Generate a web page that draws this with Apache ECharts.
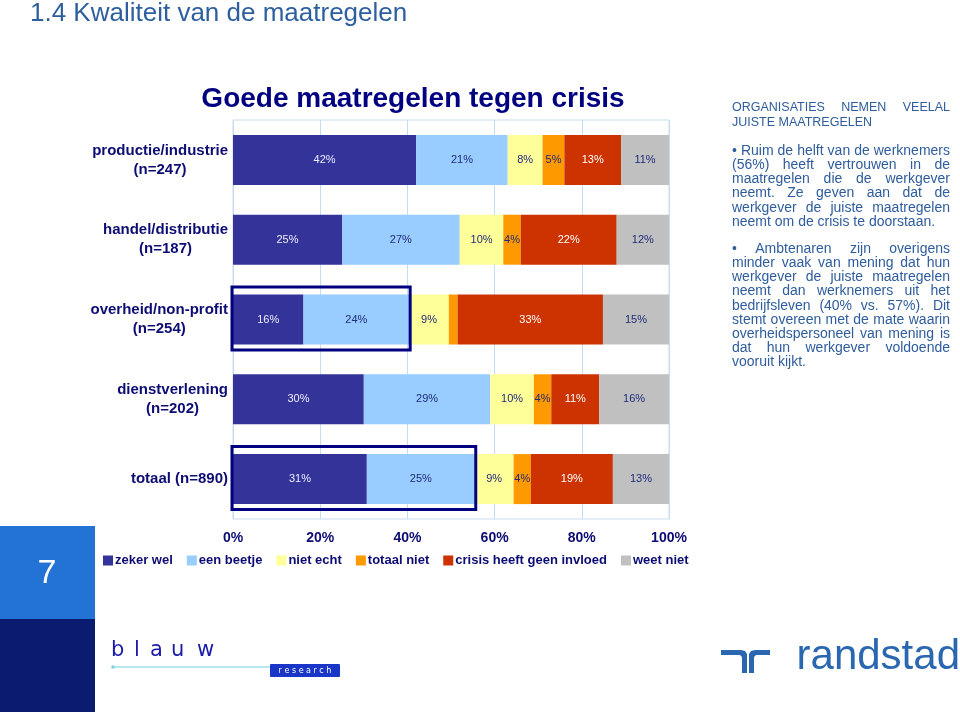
<!DOCTYPE html>
<html><head><meta charset="utf-8">
<script src="https://cdn.jsdelivr.net/npm/echarts@6/dist/echarts.min.js"></script>
<style>html,body{margin:0;padding:0;background:#fff}#c{width:960px;height:712px}</style>
</head><body><div id="c"></div>
<script>
// ---- data ----
const categories = ['productie/industrie\n(n=247)', 'handel/distributie\n(n=187)', 'overheid/non-profit\n(n=254)', 'dienstverlening\n(n=202)', 'totaal (n=890)'];
const seriesNames = ['zeker wel', 'een beetje', 'niet echt', 'totaal niet', 'crisis heeft geen invloed', 'weet niet'];
const zekerWel   = [42, 25, 16, 30, 31];
const eenBeetje  = [21, 27, 24, 29, 25];
const nietEcht   = [8, 10, 9, 10, 9];
const totaalNiet = [5, 4, 2, 4, 4];
const geenInvloed= [13, 22, 33, 11, 19];
const weetNiet   = [11, 12, 15, 16, 13];
const xTicks = [0, 20, 40, 60, 80, 100];
const highlightRows = [2, 4];

const pageTitle = '1.4 Kwaliteit van de maatregelen';
const chartTitle = 'Goede maatregelen tegen crisis';
const heading = ['ORGANISATIES NEMEN VEELAL', 'JUISTE MAATREGELEN'];
const para1 = ['• Ruim de helft van de werknemers', '(56%) heeft vertrouwen in de', 'maatregelen die de werkgever', 'neemt. Ze geven aan dat de', 'werkgever de juiste maatregelen', 'neemt om de crisis te doorstaan.'];
const para2 = ['• Ambtenaren zijn overigens', 'minder vaak van mening dat hun', 'werkgever de juiste maatregelen', 'neemt dan werknemers uit het', 'bedrijfsleven (40% vs. 57%). Dit', 'stemt overeen met de mate waarin', 'overheidspersoneel van mening is', 'dat hun werkgever voldoende', 'vooruit kijkt.'];

// ---- styles ----
const FONT = '"Liberation Sans", Arial, sans-serif';
const colors = ['#333399', '#99CCFF', '#FFFF99', '#FF9900', '#CC3300', '#C0C0C0'];
const labelColors = ['#ECECFF', '#1F2A7A', '#1F2A7A', '#1F2A7A', '#FFFFFF', '#1F2A7A'];
const NAVY = '#0C0C73';
const TEXTBLUE = '#2E5C9C';

const values = [zekerWel, eenBeetje, nietEcht, totaalNiet, geenInvloed, weetNiet];
const rowSums = categories.map((_, i) => values.reduce((s, a) => s + a[i], 0));

const series = values.map((arr, k) => ({
  name: seriesNames[k], type: 'bar', stack: 'total', barWidth: 50,
  itemStyle: { color: colors[k] },
  emphasis: { disabled: true },
  data: arr.map((v, i) => ({ value: v / rowSums[i] * 100, raw: v })),
  label: {
    show: true, position: 'inside', fontSize: 11, fontFamily: FONT, color: labelColors[k],
    formatter: p => p.data.raw >= 3 ? p.data.raw + '%' : ''
  }
}));

const chart = echarts.init(document.getElementById('c'), null, { renderer: 'canvas' });

chart.setOption({
  animation: false,
  backgroundColor: '#ffffff',
  title: [
    { text: pageTitle, left: 25, top: -4, textStyle: { fontFamily: FONT, fontSize: 26, fontWeight: 'normal', color: '#2D5F9F' } },
    { text: chartTitle, left: 408, textAlign: 'center', top: 80, textStyle: { fontFamily: FONT, fontSize: 28, fontWeight: 'bold', color: '#000080' } }
  ],
  legend: {
    data: seriesNames, left: 98, top: 549, icon: 'rect', itemWidth: 10, itemHeight: 10, itemGap: 14,
    textStyle: { fontFamily: FONT, fontSize: 13, fontWeight: 'bold', color: NAVY, padding: [0, 0, 0, -3] },
    selectedMode: false
  },
  grid: { left: 233, right: 291, top: 120, bottom: 193, show: true, borderColor: '#C6DCF0', borderWidth: 1, containLabel: false },
  xAxis: {
    type: 'value', min: 0, max: 100, interval: 20,
    axisLine: { show: false }, axisTick: { show: false },
    splitLine: { show: true, lineStyle: { color: '#C6DCF0', width: 1 } },
    axisLabel: { margin: 12, fontFamily: FONT, fontSize: 14, fontWeight: 'bold', color: NAVY, formatter: v => xTicks.includes(v) ? v + '%' : '' }
  },
  yAxis: {
    type: 'category', data: categories, inverse: true,
    axisLine: { show: false }, axisTick: { show: false }, splitLine: { show: false },
    axisLabel: {
      margin: 5, align: 'right', fontFamily: FONT, fontSize: 15, fontWeight: 'bold', color: NAVY,
      formatter: v => v.split('\n').map(s => '{a|' + s + '}').join('\n'),
      rich: { a: { align: 'center', fontFamily: FONT, fontSize: 15, fontWeight: 'bold', color: NAVY, lineHeight: 19 } }
    }
  },
  series: series
});

// ---- graphic extras ----
const g = [];
// highlight boxes around the first two segments
highlightRows.forEach(i => {
  const share = (zekerWel[i] + eenBeetje[i]) / rowSums[i] * 100;
  const p0 = chart.convertToPixel({ xAxisIndex: 0, yAxisIndex: 0 }, [0, i]);
  const p1 = chart.convertToPixel({ xAxisIndex: 0, yAxisIndex: 0 }, [share, i]);
  g.push({ type: 'rect', shape: { x: p0[0] - 1, y: p0[1] - 32.5, width: p1[0] - p0[0] + 2, height: 63 },
    style: { fill: 'none', stroke: '#000080', lineWidth: 3 }, z: 100 });
});

// justified text block
const ctx = document.createElement('canvas').getContext('2d');
function addBlock(lines, x, y0, w, step, font) {
  ctx.font = font;
  lines.forEach((line, li) => {
    const y = y0 + li * step;
    const words = line.split(' ');
    const last = li === lines.length - 1;
    if (last || words.length < 2) {
      g.push({ type: 'text', x: x, y: y, style: { text: line, font: font, fill: TEXTBLUE, textVerticalAlign: 'middle' } });
      return;
    }
    const widths = words.map(wd => ctx.measureText(wd).width);
    const total = widths.reduce((a, b) => a + b, 0);
    const gap = (w - total) / (words.length - 1);
    let cx = x;
    words.forEach((wd, wi) => {
      g.push({ type: 'text', x: cx, y: y, style: { text: wd, font: font, fill: TEXTBLUE, textVerticalAlign: 'middle' } });
      cx += widths[wi] + gap;
    });
  });
}
addBlock(heading, 732, 108, 218, 14.2, '12.5px "Liberation Sans"');
addBlock(para1, 732, 151, 218, 14.2, '14px "Liberation Sans"');
addBlock(para2, 732, 249, 218, 14.2, '14px "Liberation Sans"');

// page number block
g.push({ type: 'rect', shape: { x: 0, y: 526, width: 95, height: 93 }, style: { fill: '#2373D6' } });
g.push({ type: 'rect', shape: { x: 0, y: 619, width: 95, height: 93 }, style: { fill: '#0A1B70' } });
g.push({ type: 'text', x: 47, y: 574, style: { text: '7', font: '34px "Liberation Sans"', fill: '#ffffff', textAlign: 'center', textVerticalAlign: 'middle' } });

// blauw research logo
const blauwLetters = ['b', 'l', 'a', 'u', 'w'];
const blauwX = [111, 134, 150, 171, 197];
blauwLetters.forEach((ch, i) => g.push({ type: 'text', x: blauwX[i], y: 651, style: { text: ch, font: '21px "DejaVu Sans"', fill: '#1C1CA8', textVerticalAlign: 'middle' } }));
g.push({ type: 'line', shape: { x1: 113, y1: 667, x2: 272, y2: 667 }, style: { stroke: '#9FE0EE', lineWidth: 1.5 } });
g.push({ type: 'circle', shape: { cx: 113, cy: 667, r: 1.8 }, style: { fill: '#7FD0E0' } });
g.push({ type: 'rect', shape: { x: 270, y: 664, width: 70, height: 13, r: 1 }, style: { fill: '#1A36C8' } });
g.push({ type: 'text', x: 305, y: 671, style: { text: 'r e s e a r c h', font: '8px "DejaVu Sans"', fill: '#ffffff', textAlign: 'center', textVerticalAlign: 'middle' } });

// randstad logo
const RB = '#2A67B0';
g.push({ type: 'polygon', shape: { points: [[721, 650], [741, 650], [745, 651], [747, 654], [747, 673], [742, 673], [742, 657], [740, 655], [721, 655]] }, style: { fill: RB } });
g.push({ type: 'polygon', shape: { points: [[770, 650], [755, 650], [751, 651], [749, 654], [749, 673], [754, 673], [754, 657], [756, 655], [770, 655]] }, style: { fill: RB } });
g.push({ type: 'text', x: 960, y: 657, style: { text: 'randstad', font: '42px "Liberation Sans"', fill: RB, textAlign: 'right', textVerticalAlign: 'middle' } });

chart.setOption({ graphic: g });
</script>
</body></html>
